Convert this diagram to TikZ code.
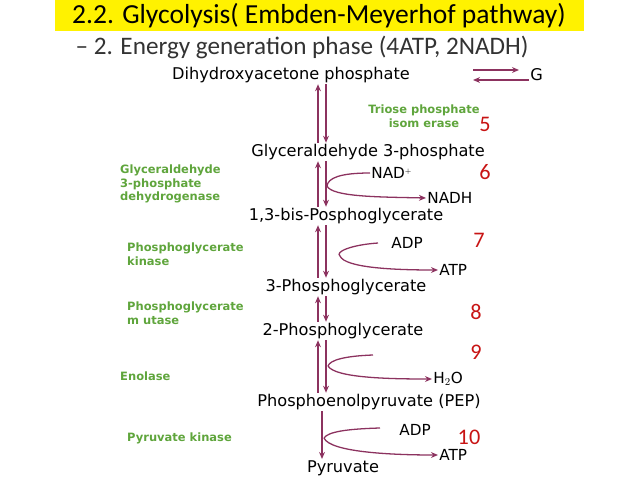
\documentclass[tikz,border=0pt]{standalone}
\usepackage{fontspec}
\setmainfont{Carlito}
\newfontfamily\cmpd{DejaVu Sans}
\usetikzlibrary{arrows.meta}
\definecolor{plum}{RGB}{140,50,95}
\definecolor{enz}{RGB}{95,165,60}
\definecolor{num}{RGB}{200,20,20}
\begin{document}
\begin{tikzpicture}[x=0.03cm,y=-0.03cm,
  cp/.style={font=\cmpd\fontsize{13.8}{15}\selectfont, inner sep=1pt},
  sd/.style={font=\cmpd\fontsize{13}{15}\selectfont, inner sep=1pt, anchor=west},
  ez/.style={font=\cmpd\bfseries\fontsize{9.8}{11.5}\selectfont, text=enz, align=left, anchor=west, inner sep=0pt},
  nm/.style={font=\fontsize{19}{21}\selectfont, text=num, inner sep=0pt},
  ar/.style={draw=plum, line width=1.1pt, -{Stealth[length=6pt,width=5pt]}},
  cv/.style={draw=plum, line width=1.1pt}]
\useasboundingbox (0,0) rectangle (638,479);
\fill[yellow] (55,0) rectangle (584,31);
\node[font=\fontsize{23.5}{26}\selectfont] (t1) at (319,16) {2.2. Glycolysis( Embden-Meyerhof pathway)};
\node[font=\fontsize{21.5}{24}\selectfont, text=black!80] (t2) at (302,47) {-- 2. Energy generation phase (4ATP, 2NADH)};
% compounds
\node[cp] (c1) at (291,75) {Dihydroxyacetone phosphate};
\node[cp] (c2) at (368,152) {Glyceraldehyde 3-phosphate};
\node[cp] (c3) at (346,216) {1,3-bis-Posphoglycerate};
\node[cp] (c4) at (346,287) {3-Phosphoglycerate};
\node[cp] (c5) at (343,331) {2-Phosphoglycerate};
\node[cp] (c6) at (369,402) {Phosphoenolpyruvate (PEP)};
\node[cp] (c7) at (343,468) {Pyruvate};
\node[cp, anchor=west] (g) at (529,75) {G};
\coordinate (gl) at (519,70); \coordinate (gr) at (473,80);
\draw[ar] (473,70) -- (gl);
\draw[ar] (g.west |- 0,80) -- (gr);
% vertical arrows
\coordinate (xu) at (318,0); \coordinate (xd) at (326,0); \coordinate (xm) at (322,0);
\foreach \a/\b in {c1/c2, c2/c3, c3/c4, c4/c5, c5/c6}{
  \draw[ar] (\b.north -| xu) -- (\a.south -| xu);
  \draw[ar] (\a.south -| xd) -- (\b.north -| xd);
}
\draw[ar] (c6.south -| xm) -- (c7.north -| xm);
% side reactants
\node[sd] (nad) at (370,173) {NAD$^{\scriptscriptstyle +}$};
\node[sd] (nadh) at (426,198) {NADH};
\node[sd] (adp1) at (390,243) {ADP};
\node[sd] (atp1) at (438,270) {ATP};
\node[sd] (h2o) at (432,379) {H$_2$O};
\node[sd] (adp2) at (398,430) {ADP};
\node[sd] (atp2) at (438,455) {ATP};
\coordinate (b6) at (327,186); \coordinate (b7) at (340,256);
\coordinate (b9) at (328,366); \coordinate (b10) at (324,438);
\draw[cv] (nad.west) .. controls (340,173) and (328,178) .. (b6);
\draw[ar] (b6) .. controls (332,197) and (380,197) .. (nadh.west);
\draw[cv] (378,243) .. controls (350,245) and (335,252) .. (b7);
\draw[ar] (b7) .. controls (345,268) and (395,270) .. (atp1.west);
\draw[cv] (373,355) .. controls (345,356) and (330,360) .. (b9);
\draw[ar] (b9) .. controls (335,378) and (390,379) .. (h2o.west);
\draw[cv] (380,428) .. controls (345,429) and (328,432) .. (b10);
\draw[ar] (b10) .. controls (330,452) and (390,455) .. (atp2.west);
% enzymes
\node[ez, align=center, anchor=center] (e5) at (424,116) {Triose phosphate\\isom erase};
\node[ez] (e6) at (120,184) {Glyceraldehyde\\3-phosphate\\dehydrogenase};
\node[ez] (e7) at (127,254) {Phosphoglycerate\\kinase};
\node[ez] (e8) at (127,313) {Phosphoglycerate\\m utase};
\node[ez] (e9) at (120,376) {Enolase};
\node[ez] (e10) at (127,438) {Pyruvate kinase};
% numbers
\node[nm] (n5) at (485,124) {5};
\node[nm] (n6) at (485,172) {6};
\node[nm] (n7) at (479,240) {7};
\node[nm] (n8) at (476,312) {8};
\node[nm] (n9) at (476,352) {9};
\node[nm] (n10) at (469,437) {10};
\end{tikzpicture}
\end{document}
